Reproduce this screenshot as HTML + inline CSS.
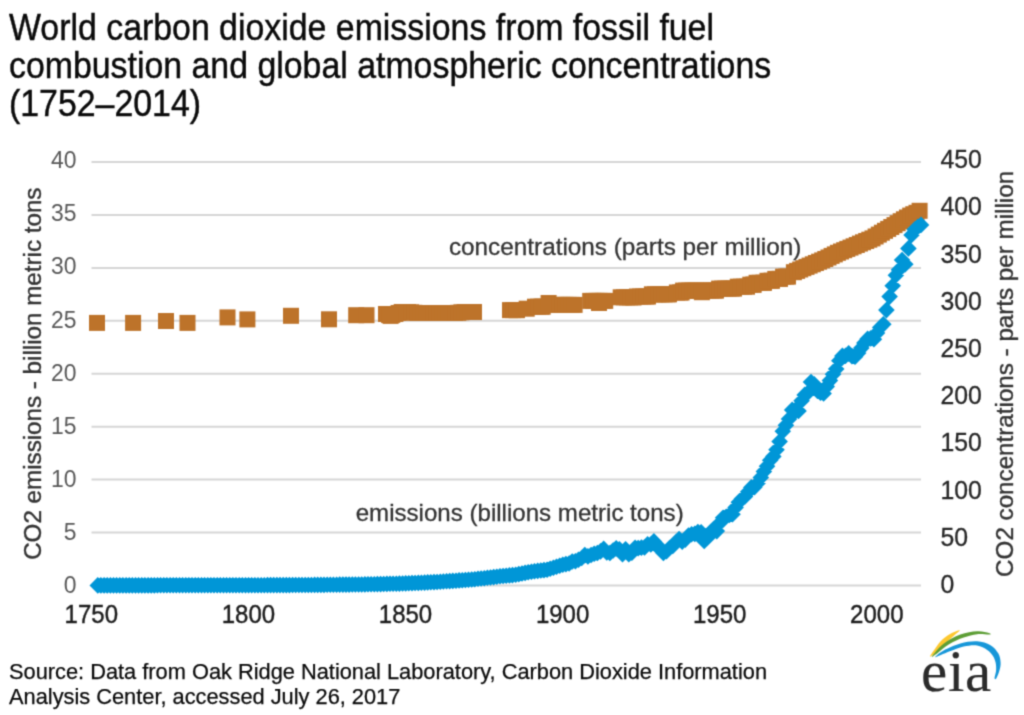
<!DOCTYPE html>
<html lang="en">
<head>
<meta charset="utf-8">
<title>World carbon dioxide emissions from fossil fuel combustion and global atmospheric concentrations (1752–2014)</title>
<style>
html,body{margin:0;padding:0;background:#fff;}
body{width:1024px;height:715px;overflow:hidden;}
svg{display:block;}
</style>
</head>
<body>
<svg width="1024" height="715" viewBox="0 0 1024 715">
<defs><filter id="soft" x="0" y="0" width="1024" height="715" filterUnits="userSpaceOnUse" color-interpolation-filters="sRGB"><feConvolveMatrix order="3" kernelMatrix="0.0324 0.1152 0.0324 0.1152 0.4096 0.1152 0.0324 0.1152 0.0324" divisor="1" edgeMode="duplicate" preserveAlpha="true"/></filter></defs>
<g filter="url(#soft)">
<rect width="1024" height="715" fill="#fff"/>
<line x1="91.5" x2="921.0" y1="585.5" y2="585.5" stroke="#d6d6d6" stroke-width="2"/>
<line x1="91.5" x2="921.0" y1="532.6" y2="532.6" stroke="#d6d6d6" stroke-width="2"/>
<line x1="91.5" x2="921.0" y1="479.6" y2="479.6" stroke="#d6d6d6" stroke-width="2"/>
<line x1="91.5" x2="921.0" y1="426.7" y2="426.7" stroke="#d6d6d6" stroke-width="2"/>
<line x1="91.5" x2="921.0" y1="373.7" y2="373.7" stroke="#d6d6d6" stroke-width="2"/>
<line x1="91.5" x2="921.0" y1="320.8" y2="320.8" stroke="#d6d6d6" stroke-width="2"/>
<line x1="91.5" x2="921.0" y1="267.9" y2="267.9" stroke="#d6d6d6" stroke-width="2"/>
<line x1="91.5" x2="921.0" y1="214.9" y2="214.9" stroke="#d6d6d6" stroke-width="2"/>
<line x1="91.5" x2="921.0" y1="162.0" y2="162.0" stroke="#d6d6d6" stroke-width="2"/>
<g font-family="'Liberation Sans', Arial, sans-serif" font-size="33.7" fill="#0a0a0a" stroke="#0a0a0a" stroke-width="0.4">
<text transform="translate(9,39.5) scale(1.005,1.08)">World carbon dioxide emissions from fossil fuel</text>
<text transform="translate(9,77.5) scale(1.005,1.08)">combustion and global atmospheric concentrations</text>
<text transform="translate(9,115.5) scale(1.005,1.08)">(1752–2014)</text>
</g>
<g font-family="'Liberation Sans', Arial, sans-serif" font-size="24" fill="#595959">
<text transform="translate(76.5,593.0) scale(0.955,1)" text-anchor="end">0</text>
<text transform="translate(76.5,539.9) scale(0.955,1)" text-anchor="end">5</text>
<text transform="translate(76.5,486.8) scale(0.955,1)" text-anchor="end">10</text>
<text transform="translate(76.5,433.7) scale(0.955,1)" text-anchor="end">15</text>
<text transform="translate(76.5,380.6) scale(0.955,1)" text-anchor="end">20</text>
<text transform="translate(76.5,327.5) scale(0.955,1)" text-anchor="end">25</text>
<text transform="translate(76.5,274.4) scale(0.955,1)" text-anchor="end">30</text>
<text transform="translate(76.5,221.3) scale(0.955,1)" text-anchor="end">35</text>
<text transform="translate(76.5,168.2) scale(0.955,1)" text-anchor="end">40</text>
<text transform="translate(940.5,592.9) scale(1,1.06)" fill="#262626" stroke="#262626" stroke-width="0.3" font-size="24.8">0</text>
<text transform="translate(940.5,545.7) scale(1,1.06)" fill="#262626" stroke="#262626" stroke-width="0.3" font-size="24.8">50</text>
<text transform="translate(940.5,498.5) scale(1,1.06)" fill="#262626" stroke="#262626" stroke-width="0.3" font-size="24.8">100</text>
<text transform="translate(940.5,451.3) scale(1,1.06)" fill="#262626" stroke="#262626" stroke-width="0.3" font-size="24.8">150</text>
<text transform="translate(940.5,404.1) scale(1,1.06)" fill="#262626" stroke="#262626" stroke-width="0.3" font-size="24.8">200</text>
<text transform="translate(940.5,356.9) scale(1,1.06)" fill="#262626" stroke="#262626" stroke-width="0.3" font-size="24.8">250</text>
<text transform="translate(940.5,309.8) scale(1,1.06)" fill="#262626" stroke="#262626" stroke-width="0.3" font-size="24.8">300</text>
<text transform="translate(940.5,262.6) scale(1,1.06)" fill="#262626" stroke="#262626" stroke-width="0.3" font-size="24.8">350</text>
<text transform="translate(940.5,215.4) scale(1,1.06)" fill="#262626" stroke="#262626" stroke-width="0.3" font-size="24.8">400</text>
<text transform="translate(940.5,168.2) scale(1,1.06)" fill="#262626" stroke="#262626" stroke-width="0.3" font-size="24.8">450</text>
</g>
<g font-family="'Liberation Sans', Arial, sans-serif" font-size="24.5" fill="#1c1c1c" stroke="#1c1c1c" stroke-width="0.4" text-anchor="middle">
<text transform="translate(91.3,623) scale(0.98,1.08)">1750</text>
<text transform="translate(248.4,623) scale(0.98,1.08)">1800</text>
<text transform="translate(405.5,623) scale(0.98,1.08)">1850</text>
<text transform="translate(562.6,623) scale(0.98,1.08)">1900</text>
<text transform="translate(719.7,623) scale(0.98,1.08)">1950</text>
<text transform="translate(876.8,623) scale(0.98,1.08)">2000</text>
</g>
<g font-family="'Liberation Sans', Arial, sans-serif" font-size="24.2" fill="#333" stroke="#333" stroke-width="0.4" text-anchor="middle">
<text transform="translate(41,373.7) rotate(-90)">CO2 emissions - billion metric tons</text>
<text transform="translate(1012.7,373.9) rotate(-90)">CO2 concentrations - parts per million</text>
</g>
<g fill="#bd732a">
<rect x="89.0" y="314.9" width="16" height="16"/>
<rect x="125.1" y="314.9" width="16" height="16"/>
<rect x="158.0" y="313.0" width="16" height="16"/>
<rect x="179.5" y="314.9" width="16" height="16"/>
<rect x="219.5" y="309.4" width="16" height="16"/>
<rect x="239.4" y="311.4" width="16" height="16"/>
<rect x="283.0" y="307.8" width="16" height="16"/>
<rect x="321.0" y="311.3" width="16" height="16"/>
<rect x="348.2" y="307.2" width="16" height="16"/>
<rect x="358.5" y="307.2" width="16" height="16"/>
<rect x="378.0" y="306.0" width="16" height="16"/>
<rect x="381.1" y="307.0" width="16" height="16"/>
<rect x="384.3" y="306.9" width="16" height="16"/>
<rect x="387.4" y="306.0" width="16" height="16"/>
<rect x="390.6" y="305.0" width="16" height="16"/>
<rect x="393.7" y="304.0" width="16" height="16"/>
<rect x="396.9" y="304.0" width="16" height="16"/>
<rect x="400.0" y="304.0" width="16" height="16"/>
<rect x="403.1" y="304.3" width="16" height="16"/>
<rect x="406.3" y="304.8" width="16" height="16"/>
<rect x="409.4" y="305.0" width="16" height="16"/>
<rect x="412.6" y="305.0" width="16" height="16"/>
<rect x="415.7" y="305.0" width="16" height="16"/>
<rect x="418.8" y="305.0" width="16" height="16"/>
<rect x="422.0" y="305.0" width="16" height="16"/>
<rect x="425.1" y="305.0" width="16" height="16"/>
<rect x="428.3" y="305.0" width="16" height="16"/>
<rect x="431.4" y="305.0" width="16" height="16"/>
<rect x="434.6" y="305.0" width="16" height="16"/>
<rect x="437.7" y="305.0" width="16" height="16"/>
<rect x="440.8" y="305.0" width="16" height="16"/>
<rect x="444.0" y="305.0" width="16" height="16"/>
<rect x="447.1" y="305.0" width="16" height="16"/>
<rect x="450.3" y="304.8" width="16" height="16"/>
<rect x="453.4" y="304.3" width="16" height="16"/>
<rect x="456.6" y="304.0" width="16" height="16"/>
<rect x="459.7" y="304.0" width="16" height="16"/>
<rect x="462.8" y="304.0" width="16" height="16"/>
<rect x="466.0" y="304.0" width="16" height="16"/>
<rect x="382.6" y="307.9" width="16" height="16"/>
<rect x="502.0" y="302.1" width="16" height="16"/>
<rect x="505.1" y="302.1" width="16" height="16"/>
<rect x="508.3" y="302.1" width="16" height="16"/>
<rect x="509.0" y="302.1" width="16" height="16"/>
<rect x="518.7" y="300.7" width="16" height="16"/>
<rect x="527.0" y="298.7" width="16" height="16"/>
<rect x="530.1" y="298.7" width="16" height="16"/>
<rect x="533.3" y="298.7" width="16" height="16"/>
<rect x="534.7" y="298.7" width="16" height="16"/>
<rect x="540.6" y="295.0" width="16" height="16"/>
<rect x="548.0" y="296.9" width="16" height="16"/>
<rect x="551.1" y="296.9" width="16" height="16"/>
<rect x="554.3" y="296.9" width="16" height="16"/>
<rect x="557.4" y="296.9" width="16" height="16"/>
<rect x="560.6" y="296.9" width="16" height="16"/>
<rect x="563.7" y="296.9" width="16" height="16"/>
<rect x="566.6" y="296.9" width="16" height="16"/>
<rect x="582.2" y="292.9" width="16" height="16"/>
<rect x="585.3" y="292.9" width="16" height="16"/>
<rect x="588.5" y="292.9" width="16" height="16"/>
<rect x="591.6" y="292.9" width="16" height="16"/>
<rect x="594.8" y="292.9" width="16" height="16"/>
<rect x="597.2" y="292.9" width="16" height="16"/>
<rect x="591.0" y="295.0" width="16" height="16"/>
<rect x="612.7" y="289.3" width="16" height="16"/>
<rect x="615.8" y="289.3" width="16" height="16"/>
<rect x="619.0" y="289.3" width="16" height="16"/>
<rect x="622.1" y="289.3" width="16" height="16"/>
<rect x="625.3" y="289.3" width="16" height="16"/>
<rect x="625.6" y="289.3" width="16" height="16"/>
<rect x="629.0" y="288.5" width="16" height="16"/>
<rect x="632.1" y="288.5" width="16" height="16"/>
<rect x="635.3" y="288.5" width="16" height="16"/>
<rect x="638.4" y="288.5" width="16" height="16"/>
<rect x="640.0" y="288.5" width="16" height="16"/>
<rect x="643.9" y="286.3" width="16" height="16"/>
<rect x="647.0" y="286.3" width="16" height="16"/>
<rect x="650.2" y="286.3" width="16" height="16"/>
<rect x="653.3" y="286.3" width="16" height="16"/>
<rect x="656.5" y="286.3" width="16" height="16"/>
<rect x="659.6" y="286.3" width="16" height="16"/>
<rect x="661.0" y="286.3" width="16" height="16"/>
<rect x="668.9" y="284.5" width="16" height="16"/>
<rect x="672.0" y="284.5" width="16" height="16"/>
<rect x="673.6" y="284.5" width="16" height="16"/>
<rect x="675.1" y="282.6" width="16" height="16"/>
<rect x="678.2" y="282.6" width="16" height="16"/>
<rect x="681.4" y="282.6" width="16" height="16"/>
<rect x="684.5" y="282.6" width="16" height="16"/>
<rect x="687.7" y="282.6" width="16" height="16"/>
<rect x="690.8" y="282.6" width="16" height="16"/>
<rect x="694.0" y="282.6" width="16" height="16"/>
<rect x="697.1" y="282.6" width="16" height="16"/>
<rect x="700.2" y="282.6" width="16" height="16"/>
<rect x="703.4" y="282.6" width="16" height="16"/>
<rect x="706.5" y="282.6" width="16" height="16"/>
<rect x="708.0" y="282.6" width="16" height="16"/>
<rect x="693.9" y="284.2" width="16" height="16"/>
<rect x="711.1" y="280.6" width="16" height="16"/>
<rect x="714.2" y="280.6" width="16" height="16"/>
<rect x="717.4" y="280.6" width="16" height="16"/>
<rect x="720.5" y="280.6" width="16" height="16"/>
<rect x="723.7" y="280.6" width="16" height="16"/>
<rect x="726.0" y="280.6" width="16" height="16"/>
<rect x="729.8" y="278.7" width="16" height="16"/>
<rect x="732.9" y="278.7" width="16" height="16"/>
<rect x="736.1" y="278.7" width="16" height="16"/>
<rect x="739.0" y="278.7" width="16" height="16"/>
<rect x="742.3" y="276.7" width="16" height="16"/>
<rect x="745.4" y="276.7" width="16" height="16"/>
<rect x="745.5" y="276.7" width="16" height="16"/>
<rect x="748.6" y="274.8" width="16" height="16"/>
<rect x="751.7" y="274.8" width="16" height="16"/>
<rect x="754.9" y="274.8" width="16" height="16"/>
<rect x="756.0" y="274.8" width="16" height="16"/>
<rect x="759.5" y="272.8" width="16" height="16"/>
<rect x="762.6" y="272.8" width="16" height="16"/>
<rect x="764.0" y="272.8" width="16" height="16"/>
<rect x="767.3" y="270.9" width="16" height="16"/>
<rect x="770.4" y="270.9" width="16" height="16"/>
<rect x="772.0" y="270.9" width="16" height="16"/>
<rect x="775.1" y="268.6" width="16" height="16"/>
<rect x="778.2" y="268.6" width="16" height="16"/>
<rect x="780.0" y="268.6" width="16" height="16"/>
<rect x="785.9" y="264.2" width="16" height="16"/>
<rect x="789.1" y="262.9" width="16" height="16"/>
<rect x="792.2" y="261.5" width="16" height="16"/>
<rect x="795.3" y="260.2" width="16" height="16"/>
<rect x="798.5" y="258.9" width="16" height="16"/>
<rect x="801.6" y="257.6" width="16" height="16"/>
<rect x="804.8" y="256.3" width="16" height="16"/>
<rect x="807.9" y="255.0" width="16" height="16"/>
<rect x="811.1" y="253.7" width="16" height="16"/>
<rect x="814.2" y="252.4" width="16" height="16"/>
<rect x="817.3" y="251.0" width="16" height="16"/>
<rect x="820.5" y="249.5" width="16" height="16"/>
<rect x="823.6" y="247.9" width="16" height="16"/>
<rect x="826.8" y="246.4" width="16" height="16"/>
<rect x="829.9" y="244.8" width="16" height="16"/>
<rect x="833.0" y="243.5" width="16" height="16"/>
<rect x="836.2" y="242.2" width="16" height="16"/>
<rect x="839.3" y="240.9" width="16" height="16"/>
<rect x="842.5" y="239.6" width="16" height="16"/>
<rect x="845.6" y="238.3" width="16" height="16"/>
<rect x="848.8" y="237.0" width="16" height="16"/>
<rect x="851.9" y="235.6" width="16" height="16"/>
<rect x="855.0" y="234.3" width="16" height="16"/>
<rect x="858.2" y="233.0" width="16" height="16"/>
<rect x="861.3" y="231.7" width="16" height="16"/>
<rect x="864.5" y="230.4" width="16" height="16"/>
<rect x="867.6" y="228.5" width="16" height="16"/>
<rect x="870.8" y="226.6" width="16" height="16"/>
<rect x="873.9" y="224.7" width="16" height="16"/>
<rect x="877.0" y="222.8" width="16" height="16"/>
<rect x="880.2" y="220.9" width="16" height="16"/>
<rect x="883.3" y="219.0" width="16" height="16"/>
<rect x="886.5" y="217.1" width="16" height="16"/>
<rect x="889.6" y="215.2" width="16" height="16"/>
<rect x="892.7" y="213.2" width="16" height="16"/>
<rect x="895.9" y="211.3" width="16" height="16"/>
<rect x="899.0" y="209.5" width="16" height="16"/>
<rect x="902.2" y="207.6" width="16" height="16"/>
<rect x="905.3" y="206.2" width="16" height="16"/>
<rect x="908.5" y="204.8" width="16" height="16"/>
<rect x="911.6" y="202.8" width="16" height="16"/>
</g>
<g fill="#0096d7">
<path d="M89.5 585.4L97.8 577.1L106.1 585.4L97.8 593.7ZM92.6 585.4L100.9 577.1L109.2 585.4L100.9 593.7ZM95.8 585.4L104.1 577.1L112.4 585.4L104.1 593.7ZM98.9 585.4L107.2 577.1L115.5 585.4L107.2 593.7ZM102.1 585.4L110.4 577.1L118.7 585.4L110.4 593.7ZM105.2 585.4L113.5 577.1L121.8 585.4L113.5 593.7ZM108.3 585.4L116.6 577.1L124.9 585.4L116.6 593.7ZM111.5 585.4L119.8 577.1L128.1 585.4L119.8 593.7ZM114.6 585.4L122.9 577.1L131.2 585.4L122.9 593.7ZM117.8 585.4L126.1 577.1L134.4 585.4L126.1 593.7ZM120.9 585.4L129.2 577.1L137.5 585.4L129.2 593.7ZM124.0 585.4L132.3 577.1L140.6 585.4L132.3 593.7ZM127.2 585.4L135.5 577.1L143.8 585.4L135.5 593.7ZM130.3 585.4L138.6 577.1L146.9 585.4L138.6 593.7ZM133.5 585.4L141.8 577.1L150.1 585.4L141.8 593.7ZM136.6 585.4L144.9 577.1L153.2 585.4L144.9 593.7ZM139.8 585.4L148.1 577.1L156.4 585.4L148.1 593.7ZM142.9 585.4L151.2 577.1L159.5 585.4L151.2 593.7ZM146.0 585.4L154.3 577.1L162.6 585.4L154.3 593.7ZM149.2 585.3L157.5 577.0L165.8 585.3L157.5 593.6ZM152.3 585.3L160.6 577.0L168.9 585.3L160.6 593.6ZM155.5 585.3L163.8 577.0L172.1 585.3L163.8 593.6ZM158.6 585.3L166.9 577.0L175.2 585.3L166.9 593.6ZM161.8 585.3L170.1 577.0L178.4 585.3L170.1 593.6ZM164.9 585.3L173.2 577.0L181.5 585.3L173.2 593.6ZM168.0 585.3L176.3 577.0L184.6 585.3L176.3 593.6ZM171.2 585.3L179.5 577.0L187.8 585.3L179.5 593.6ZM174.3 585.3L182.6 577.0L190.9 585.3L182.6 593.6ZM177.5 585.3L185.8 577.0L194.1 585.3L185.8 593.6ZM180.6 585.3L188.9 577.0L197.2 585.3L188.9 593.6ZM183.7 585.3L192.0 577.0L200.3 585.3L192.0 593.6ZM186.9 585.3L195.2 577.0L203.5 585.3L195.2 593.6ZM190.0 585.3L198.3 577.0L206.6 585.3L198.3 593.6ZM193.2 585.3L201.5 577.0L209.8 585.3L201.5 593.6ZM196.3 585.3L204.6 577.0L212.9 585.3L204.6 593.6ZM199.5 585.3L207.8 577.0L216.1 585.3L207.8 593.6ZM202.6 585.3L210.9 577.0L219.2 585.3L210.9 593.6ZM205.7 585.3L214.0 577.0L222.3 585.3L214.0 593.6ZM208.9 585.3L217.2 577.0L225.5 585.3L217.2 593.6ZM212.0 585.3L220.3 577.0L228.6 585.3L220.3 593.6ZM215.2 585.3L223.5 577.0L231.8 585.3L223.5 593.6ZM218.3 585.3L226.6 577.0L234.9 585.3L226.6 593.6ZM221.4 585.3L229.8 577.0L238.1 585.3L229.8 593.6ZM224.6 585.3L232.9 577.0L241.2 585.3L232.9 593.6ZM227.7 585.3L236.0 577.0L244.3 585.3L236.0 593.6ZM230.9 585.2L239.2 576.9L247.5 585.2L239.2 593.5ZM234.0 585.2L242.3 576.9L250.6 585.2L242.3 593.5ZM237.2 585.2L245.5 576.9L253.8 585.2L245.5 593.5ZM240.3 585.2L248.6 576.9L256.9 585.2L248.6 593.5ZM243.4 585.2L251.7 576.9L260.0 585.2L251.7 593.5ZM246.6 585.2L254.9 576.9L263.2 585.2L254.9 593.5ZM249.7 585.2L258.0 576.9L266.3 585.2L258.0 593.5ZM252.9 585.2L261.2 576.9L269.5 585.2L261.2 593.5ZM256.0 585.2L264.3 576.9L272.6 585.2L264.3 593.5ZM259.2 585.1L267.5 576.8L275.8 585.1L267.5 593.4ZM262.3 585.1L270.6 576.8L278.9 585.1L270.6 593.4ZM265.4 585.1L273.7 576.8L282.0 585.1L273.7 593.4ZM268.6 585.1L276.9 576.8L285.2 585.1L276.9 593.4ZM271.7 585.1L280.0 576.8L288.3 585.1L280.0 593.4ZM274.9 585.1L283.2 576.8L291.5 585.1L283.2 593.4ZM278.0 585.1L286.3 576.8L294.6 585.1L286.3 593.4ZM281.1 585.1L289.4 576.8L297.7 585.1L289.4 593.4ZM284.3 585.0L292.6 576.7L300.9 585.0L292.6 593.3ZM287.4 585.0L295.7 576.7L304.0 585.0L295.7 593.3ZM290.6 585.0L298.9 576.7L307.2 585.0L298.9 593.3ZM293.7 585.0L302.0 576.7L310.3 585.0L302.0 593.3ZM296.9 585.0L305.2 576.7L313.5 585.0L305.2 593.3ZM300.0 585.0L308.3 576.7L316.6 585.0L308.3 593.3ZM303.1 585.0L311.4 576.7L319.7 585.0L311.4 593.3ZM306.3 584.9L314.6 576.6L322.9 584.9L314.6 593.2ZM309.4 584.9L317.7 576.6L326.0 584.9L317.7 593.2ZM312.6 584.9L320.9 576.6L329.2 584.9L320.9 593.2ZM315.7 584.9L324.0 576.6L332.3 584.9L324.0 593.2ZM318.9 584.8L327.2 576.5L335.5 584.8L327.2 593.1ZM322.0 584.8L330.3 576.5L338.6 584.8L330.3 593.1ZM325.1 584.7L333.4 576.4L341.7 584.7L333.4 593.0ZM328.3 584.7L336.6 576.4L344.9 584.7L336.6 593.0ZM331.4 584.6L339.7 576.3L348.0 584.6L339.7 592.9ZM334.6 584.6L342.9 576.3L351.2 584.6L342.9 592.9ZM337.7 584.6L346.0 576.3L354.3 584.6L346.0 592.9ZM340.8 584.6L349.1 576.3L357.4 584.6L349.1 592.9ZM344.0 584.5L352.3 576.2L360.6 584.5L352.3 592.8ZM347.1 584.5L355.4 576.2L363.7 584.5L355.4 592.8ZM350.3 584.5L358.6 576.2L366.9 584.5L358.6 592.8ZM353.4 584.5L361.7 576.2L370.0 584.5L361.7 592.8ZM356.6 584.4L364.9 576.1L373.2 584.4L364.9 592.7ZM359.7 584.3L368.0 576.0L376.3 584.3L368.0 592.6ZM362.8 584.3L371.1 576.0L379.4 584.3L371.1 592.6ZM366.0 584.2L374.3 575.9L382.6 584.2L374.3 592.5ZM369.1 584.1L377.4 575.8L385.7 584.1L377.4 592.4ZM372.3 584.1L380.6 575.8L388.9 584.1L380.6 592.4ZM375.4 584.0L383.7 575.7L392.0 584.0L383.7 592.3ZM378.6 583.9L386.9 575.6L395.2 583.9L386.9 592.2ZM381.7 583.8L390.0 575.5L398.3 583.8L390.0 592.1ZM384.8 583.7L393.1 575.4L401.4 583.7L393.1 592.0ZM388.0 583.7L396.3 575.4L404.6 583.7L396.3 592.0ZM391.1 583.6L399.4 575.3L407.7 583.6L399.4 591.9ZM394.3 583.5L402.6 575.2L410.9 583.5L402.6 591.8ZM397.4 583.4L405.7 575.1L414.0 583.4L405.7 591.7ZM400.5 583.3L408.8 575.0L417.1 583.3L408.8 591.6ZM403.7 583.1L412.0 574.8L420.3 583.1L412.0 591.4ZM406.8 583.0L415.1 574.7L423.4 583.0L415.1 591.3ZM410.0 582.9L418.3 574.6L426.6 582.9L418.3 591.2ZM413.1 582.7L421.4 574.4L429.7 582.7L421.4 591.0ZM416.3 582.6L424.6 574.3L432.9 582.6L424.6 590.9ZM419.4 582.4L427.7 574.1L436.0 582.4L427.7 590.7ZM422.5 582.3L430.8 574.0L439.1 582.3L430.8 590.6ZM425.7 582.1L434.0 573.8L442.3 582.1L434.0 590.4ZM428.8 582.0L437.1 573.7L445.4 582.0L437.1 590.3ZM432.0 581.7L440.3 573.4L448.6 581.7L440.3 590.0ZM435.1 581.5L443.4 573.2L451.7 581.5L443.4 589.8ZM438.3 581.3L446.6 573.0L454.9 581.3L446.6 589.6ZM441.4 581.1L449.7 572.8L458.0 581.1L449.7 589.4ZM444.5 580.9L452.8 572.6L461.1 580.9L452.8 589.2ZM447.7 580.7L456.0 572.4L464.3 580.7L456.0 589.0ZM450.8 580.4L459.1 572.1L467.4 580.4L459.1 588.7ZM454.0 580.2L462.3 571.9L470.6 580.2L462.3 588.5ZM457.1 580.0L465.4 571.7L473.7 580.0L465.4 588.3ZM460.2 579.8L468.5 571.5L476.8 579.8L468.5 588.1ZM463.4 579.5L471.7 571.2L480.0 579.5L471.7 587.8ZM466.5 579.2L474.8 570.9L483.1 579.2L474.8 587.5ZM469.7 578.8L478.0 570.5L486.3 578.8L478.0 587.1ZM472.8 578.5L481.1 570.2L489.4 578.5L481.1 586.8ZM476.0 578.2L484.3 569.9L492.6 578.2L484.3 586.5ZM479.1 577.8L487.4 569.5L495.7 577.8L487.4 586.1ZM482.2 577.5L490.5 569.2L498.8 577.5L490.5 585.8ZM485.4 577.1L493.7 568.8L502.0 577.1L493.7 585.4ZM488.5 576.7L496.8 568.4L505.1 576.7L496.8 585.0ZM491.7 576.3L500.0 568.0L508.3 576.3L500.0 584.6ZM494.8 576.0L503.1 567.7L511.4 576.0L503.1 584.3ZM497.9 575.7L506.2 567.4L514.5 575.7L506.2 584.0ZM501.1 575.4L509.4 567.1L517.7 575.4L509.4 583.7ZM504.2 575.1L512.5 566.8L520.8 575.1L512.5 583.4ZM507.4 574.7L515.7 566.4L524.0 574.7L515.7 583.0ZM510.5 574.1L518.8 565.8L527.1 574.1L518.8 582.4ZM513.7 573.5L522.0 565.2L530.3 573.5L522.0 581.8ZM516.8 572.9L525.1 564.6L533.4 572.9L525.1 581.2ZM519.9 572.3L528.2 564.0L536.5 572.3L528.2 580.6ZM523.1 571.7L531.4 563.4L539.7 571.7L531.4 580.0ZM526.2 571.3L534.5 563.0L542.8 571.3L534.5 579.6ZM529.4 570.9L537.7 562.6L546.0 570.9L537.7 579.2ZM532.5 570.5L540.8 562.2L549.1 570.5L540.8 578.8ZM535.7 570.1L544.0 561.8L552.3 570.1L544.0 578.4ZM538.8 569.7L547.1 561.4L555.4 569.7L547.1 578.0ZM541.9 568.7L550.2 560.4L558.5 568.7L550.2 577.0ZM545.1 567.7L553.4 559.4L561.7 567.7L553.4 576.0ZM548.2 566.8L556.5 558.5L564.8 566.8L556.5 575.1ZM551.4 565.8L559.7 557.5L568.0 565.8L559.7 574.1ZM554.5 564.8L562.8 556.5L571.1 564.8L562.8 573.1ZM557.6 564.1L565.9 555.8L574.2 564.1L565.9 572.4ZM560.8 563.5L569.1 555.2L577.4 563.5L569.1 571.8ZM563.9 561.5L572.2 553.2L580.5 561.5L572.2 569.8ZM567.1 561.3L575.4 553.0L583.7 561.3L575.4 569.6ZM570.2 559.8L578.5 551.5L586.8 559.8L578.5 568.1ZM573.4 558.0L581.7 549.7L590.0 558.0L581.7 566.3ZM576.5 555.1L584.8 546.8L593.1 555.1L584.8 563.4ZM579.6 556.4L587.9 548.1L596.2 556.4L587.9 564.7ZM582.8 555.0L591.1 546.7L599.4 555.0L591.1 563.3ZM585.9 553.7L594.2 545.4L602.5 553.7L594.2 562.0ZM589.1 553.0L597.4 544.7L605.7 553.0L597.4 561.3ZM592.2 551.4L600.5 543.1L608.8 551.4L600.5 559.7ZM595.4 548.9L603.7 540.6L612.0 548.9L603.7 557.2ZM598.5 552.5L606.8 544.2L615.1 552.5L606.8 560.8ZM601.6 553.0L609.9 544.7L618.2 553.0L609.9 561.3ZM604.8 550.5L613.1 542.2L621.4 550.5L613.1 558.8ZM607.9 548.4L616.2 540.1L624.5 548.4L616.2 556.7ZM611.1 549.2L619.4 540.9L627.7 549.2L619.4 557.5ZM614.2 554.2L622.5 545.9L630.8 554.2L622.5 562.5ZM617.3 549.3L625.6 541.0L633.9 549.3L625.6 557.6ZM620.5 554.3L628.8 546.0L637.1 554.3L628.8 562.6ZM623.6 552.7L631.9 544.4L640.2 552.7L631.9 561.0ZM626.8 547.8L635.1 539.5L643.4 547.8L635.1 556.1ZM629.9 548.1L638.2 539.8L646.5 548.1L638.2 556.4ZM633.1 547.6L641.4 539.3L649.7 547.6L641.4 555.9ZM636.2 547.4L644.5 539.1L652.8 547.4L644.5 555.7ZM639.3 544.4L647.6 536.1L655.9 544.4L647.6 552.7ZM642.5 544.4L650.8 536.1L659.1 544.4L650.8 552.7ZM645.6 541.4L653.9 533.1L662.2 541.4L653.9 549.7ZM648.8 545.0L657.1 536.7L665.4 545.0L657.1 553.3ZM651.9 549.4L660.2 541.1L668.5 549.4L660.2 557.7ZM655.1 553.0L663.4 544.7L671.7 553.0L663.4 561.3ZM658.2 551.2L666.5 542.9L674.8 551.2L666.5 559.5ZM661.3 548.1L669.6 539.8L677.9 548.1L669.6 556.4ZM664.5 546.0L672.8 537.7L681.1 546.0L672.8 554.3ZM667.6 542.0L675.9 533.7L684.2 542.0L675.9 550.3ZM670.8 539.0L679.1 530.7L687.4 539.0L679.1 547.3ZM673.9 541.6L682.2 533.3L690.5 541.6L682.2 549.9ZM677.0 539.6L685.3 531.3L693.6 539.6L685.3 547.9ZM680.2 535.5L688.5 527.2L696.8 535.5L688.5 543.8ZM683.3 534.2L691.6 525.9L699.9 534.2L691.6 542.5ZM686.5 533.9L694.8 525.6L703.1 533.9L694.8 542.2ZM689.6 532.0L697.9 523.7L706.2 532.0L697.9 540.3ZM692.8 532.3L701.1 524.0L709.4 532.3L701.1 540.6ZM695.9 541.0L704.2 532.7L712.5 541.0L704.2 549.3ZM699.0 538.0L707.3 529.7L715.6 538.0L707.3 546.3ZM702.2 532.1L710.5 523.8L718.8 532.1L710.5 540.4ZM705.3 529.1L713.6 520.8L721.9 529.1L713.6 537.4ZM708.5 531.1L716.8 522.8L725.1 531.1L716.8 539.4ZM711.6 522.9L719.9 514.6L728.2 522.9L719.9 531.2ZM714.8 517.7L723.1 509.4L731.4 517.7L723.1 526.0ZM717.9 516.7L726.2 508.4L734.5 516.7L726.2 525.0ZM721.0 515.0L729.3 506.7L737.6 515.0L729.3 523.3ZM724.2 514.2L732.5 505.9L740.8 514.2L732.5 522.5ZM727.3 507.4L735.6 499.1L743.9 507.4L735.6 515.7ZM730.5 502.3L738.8 494.0L747.1 502.3L738.8 510.6ZM733.6 498.7L741.9 490.4L750.2 498.7L741.9 507.0ZM736.7 496.5L745.0 488.2L753.3 496.5L745.0 504.8ZM739.9 491.8L748.2 483.5L756.5 491.8L748.2 500.1ZM743.0 487.4L751.3 479.1L759.6 487.4L751.3 495.7ZM746.2 487.1L754.5 478.8L762.8 487.1L754.5 495.4ZM749.3 483.2L757.6 474.9L765.9 483.2L757.6 491.5ZM752.5 477.6L760.8 469.3L769.1 477.6L760.8 485.9ZM755.6 471.4L763.9 463.1L772.2 471.4L763.9 479.7ZM758.7 466.3L767.0 458.0L775.3 466.3L767.0 474.6ZM761.9 460.3L770.2 452.0L778.5 460.3L770.2 468.6ZM765.0 456.4L773.3 448.1L781.6 456.4L773.3 464.7ZM768.2 449.8L776.5 441.5L784.8 449.8L776.5 458.1ZM771.3 441.6L779.6 433.3L787.9 441.6L779.6 449.9ZM774.5 431.2L782.8 422.9L791.0 431.2L782.8 439.5ZM777.6 425.3L785.9 417.0L794.2 425.3L785.9 433.6ZM780.7 419.0L789.0 410.7L797.3 419.0L789.0 427.3ZM783.9 409.9L792.2 401.6L800.5 409.9L792.2 418.2ZM787.0 409.7L795.3 401.4L803.6 409.7L795.3 418.0ZM790.2 410.9L798.5 402.6L806.8 410.9L798.5 419.2ZM793.3 400.7L801.6 392.4L809.9 400.7L801.6 409.0ZM796.4 394.9L804.7 386.6L813.0 394.9L804.7 403.2ZM799.6 392.8L807.9 384.5L816.2 392.8L807.9 401.1ZM802.7 382.0L811.0 373.7L819.3 382.0L811.0 390.3ZM805.9 384.3L814.2 376.0L822.5 384.3L814.2 392.6ZM809.0 390.8L817.3 382.5L825.6 390.8L817.3 399.1ZM812.2 392.7L820.5 384.4L828.8 392.7L820.5 401.0ZM815.3 393.5L823.6 385.2L831.9 393.5L823.6 401.8ZM818.4 386.6L826.7 378.3L835.0 386.6L826.7 394.9ZM821.6 380.6L829.9 372.3L838.2 380.6L829.9 388.9ZM824.7 374.3L833.0 366.0L841.3 374.3L833.0 382.6ZM827.9 368.9L836.2 360.6L844.5 368.9L836.2 377.2ZM831.0 360.8L839.3 352.5L847.6 360.8L839.3 369.1ZM834.1 355.9L842.4 347.6L850.7 355.9L842.4 364.2ZM837.3 355.8L845.6 347.5L853.9 355.8L845.6 364.1ZM840.4 353.4L848.7 345.1L857.0 353.4L848.7 361.7ZM843.6 356.1L851.9 347.8L860.2 356.1L851.9 364.4ZM846.7 356.7L855.0 348.4L863.3 356.7L855.0 365.0ZM849.9 353.0L858.2 344.7L866.5 353.0L858.2 361.3ZM853.0 348.1L861.3 339.8L869.6 348.1L861.3 356.4ZM856.1 342.9L864.4 334.6L872.7 342.9L864.4 351.2ZM859.3 338.9L867.6 330.6L875.9 338.9L867.6 347.2ZM862.4 338.4L870.7 330.1L879.0 338.4L870.7 346.7ZM865.6 339.3L873.9 331.0L882.2 339.3L873.9 347.6ZM868.7 332.9L877.0 324.6L885.3 332.9L877.0 341.2ZM871.9 327.4L880.2 319.1L888.5 327.4L880.2 335.7ZM875.0 324.2L883.3 315.9L891.6 324.2L883.3 332.5ZM878.1 310.1L886.4 301.8L894.7 310.1L886.4 318.4ZM881.3 296.6L889.6 288.3L897.9 296.6L889.6 304.9ZM884.4 285.7L892.7 277.4L901.0 285.7L892.7 294.0ZM887.6 275.2L895.9 266.9L904.2 275.2L895.9 283.5ZM890.7 269.7L899.0 261.4L907.3 269.7L899.0 278.0ZM893.8 260.1L902.1 251.8L910.4 260.1L902.1 268.4ZM897.0 264.2L905.3 255.9L913.6 264.2L905.3 272.5ZM900.1 248.4L908.4 240.1L916.7 248.4L908.4 256.7ZM903.3 235.0L911.6 226.7L919.9 235.0L911.6 243.3ZM906.4 229.6L914.7 221.3L923.0 229.6L914.7 237.9ZM909.6 226.9L917.9 218.6L926.2 226.9L917.9 235.2ZM912.7 224.9L921.0 216.6L929.3 224.9L921.0 233.2Z"/>
</g>
<g font-family="'Liberation Sans', Arial, sans-serif" font-size="24.1" fill="#333" stroke="#333" stroke-width="0.3">
<text x="801.4" y="255.2" text-anchor="end" font-size="24.3">concentrations (parts per million)</text>
<text x="683.7" y="521.1" text-anchor="end">emissions (billions metric tons)</text>
</g>
<g font-family="'Liberation Sans', Arial, sans-serif" font-size="21.8" fill="#0a0a0a" stroke="#0a0a0a" stroke-width="0.25">
<text x="9" y="678.8">Source: Data from Oak Ridge National Laboratory, Carbon Dioxide Information</text>
<text x="9" y="703.8">Analysis Center, accessed July 26, 2017</text>
</g>
<g id="logo">
<text x="921" y="690.8" font-family="'Liberation Serif', 'Times New Roman', serif" font-size="59" letter-spacing="0.7" fill="#2b2b2b" stroke="#2b2b2b" stroke-width="0.15">eia</text>
<path d="M930.1 656.7C929.4 656.6 933.1 651.4 935.2 648.5C937.2 645.7 939.7 642.1 942.4 639.6C945.1 637.0 948.5 634.7 951.4 633.2C954.3 631.7 959.2 630.0 959.8 630.3C960.3 630.6 956.8 633.2 954.7 635.1C952.7 637.0 950.0 639.1 947.5 641.5C945.0 643.8 942.5 646.8 939.6 649.3C936.8 651.8 930.9 656.8 930.1 656.7Z" fill="#fdc82f"/>
<path d="M931.8 656.7C932.7 655.2 938.8 647.5 943.6 643.8C948.3 640.1 954.7 636.6 960.3 634.5C965.9 632.4 972.4 631.5 977.1 631.2C981.9 630.9 986.8 632.3 988.9 632.9C990.9 633.4 991.6 634.3 989.6 634.5C987.7 634.8 981.4 633.7 977.1 634.2C972.8 634.7 968.4 635.9 963.7 637.6C959.0 639.2 953.4 641.8 949.1 644.3C944.9 646.8 940.9 650.6 938.0 652.7C935.1 654.7 930.9 658.2 931.8 656.7Z" fill="#5d9e35"/>
<path d="M935.2 657.2C934.2 657.1 939.4 652.8 943.6 650.5C947.8 648.2 954.7 645.0 960.3 643.5C965.9 641.9 972.1 641.0 977.1 641.3C982.1 641.5 987.0 643.1 990.5 645.2C994.1 647.2 996.7 650.7 998.4 653.6C1000.0 656.4 1000.4 659.7 1000.6 662.5C1000.8 665.3 1000.2 667.7 999.5 670.3C998.8 672.9 997.2 676.9 996.4 678.2C995.5 679.5 994.6 679.5 994.6 678.2C994.5 676.9 996.0 672.9 996.1 670.3C996.3 667.7 996.1 664.9 995.6 662.5C995.0 660.1 994.2 657.9 992.8 655.8C991.4 653.7 989.8 651.6 987.2 649.9C984.6 648.1 981.0 646.0 977.1 645.4C973.2 644.8 968.4 645.5 963.7 646.5C959.0 647.5 953.9 649.8 949.1 651.5C944.4 653.3 936.1 657.4 935.2 657.2Z" fill="#1797d9"/>
</g>
</g>
</svg>
</body>
</html>
